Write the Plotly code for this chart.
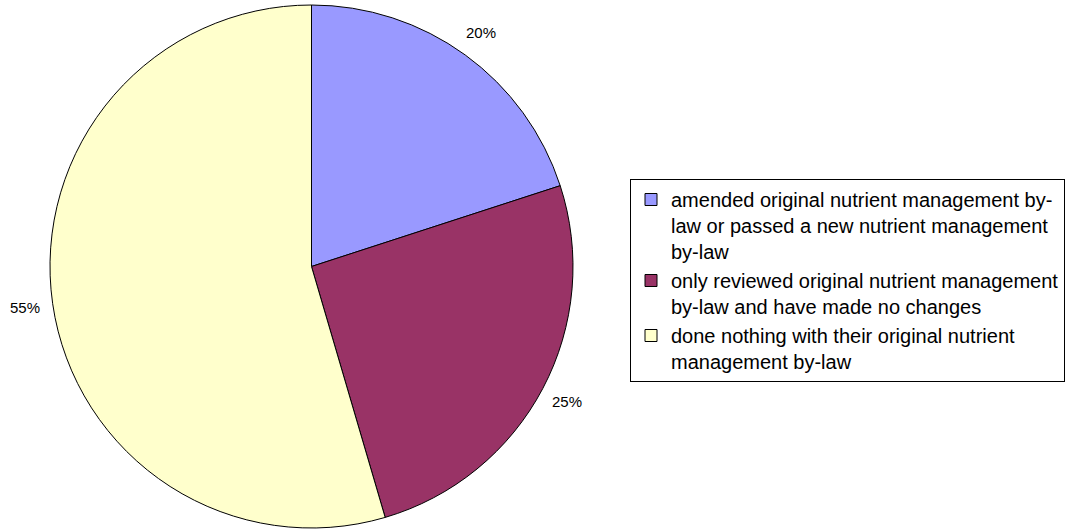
import math
import plotly.graph_objects as go

labels = [
    "amended original nutrient management by-<br>law or passed a new nutrient management<br>by-law",
    "only reviewed original nutrient management<br>by-law and have made no changes",
    "done nothing with their original nutrient<br>management by-law",
]
values = [11, 14, 30]
colors = ["#9999FF", "#993366", "#FFFFCC"]

W, H = 1084, 529
cx, cy, R = 311.5, 266.5, 261.5

fig = go.Figure(go.Pie(
    labels=labels, values=values, sort=False, direction="clockwise", rotation=0,
    marker=dict(colors=colors, line=dict(color="black", width=1)),
    textinfo="none", hoverinfo="label+percent",
    domain=dict(x=[(cx - R) / W, (cx + R) / W], y=[(H - cy - R) / H, (H - cy + R) / H]),
))

total = sum(values)
cum = 0
ann = []
for v in values:
    mid = (cum + v / 2) / total * 2 * math.pi
    cum += v
    rl = 289
    px = cx + rl * math.sin(mid)
    py = cy - rl * math.cos(mid)
    ann.append(dict(x=px / W, y=(H - py) / H, xref="paper", yref="paper",
                    text=f"{round(v / total * 100)}%", showarrow=False,
                    font=dict(size=15, color="black", family="Liberation Sans, Arial"),
                    xanchor="center", yanchor="middle"))

fig.update_layout(
    width=W, height=H, margin=dict(l=0, r=0, t=0, b=0),
    paper_bgcolor="white", plot_bgcolor="white",
    font=dict(family="Liberation Sans, Arial", color="black"),
    annotations=ann,
    legend=dict(x=630 / W, y=(H - 179) / H, xanchor="left", yanchor="top",
                bordercolor="black", borderwidth=1, bgcolor="white",
                font=dict(size=20, color="black"), valign="top",
                itemwidth=30, tracegroupgap=0),
)
fig.write_html("out.html")
